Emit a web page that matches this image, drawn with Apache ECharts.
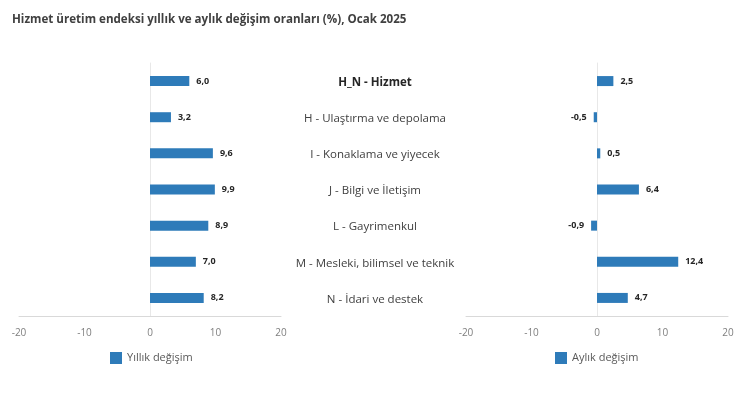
<!DOCTYPE html>
<html><head><meta charset="utf-8">
<script src="https://cdn.jsdelivr.net/npm/echarts@6/dist/echarts.min.js"></script>
<style>html,body{margin:0;padding:0;background:#fff}#c{width:750px;height:394px}</style>
</head><body><div id="c"></div>
<script>
const categories = ["H_N - Hizmet","H - Ulaştırma ve depolama","I - Konaklama ve yiyecek","J - Bilgi ve İletişim","L - Gayrimenkul","M - Mesleki, bilimsel ve teknik","N - İdari ve destek"];
const yillik = [6.0, 3.2, 9.6, 9.9, 8.9, 7.0, 8.2];
const aylik = [2.5, -0.5, 0.5, 6.4, -0.9, 12.4, 4.7];
const xTicks = [-20, -10, 0, 10, 20];

const FONT = "'Open Sans', sans-serif";
const BAR = '#2E7BB9';
function items(arr){ return arr.map(v => ({value: v, label: {position: v < 0 ? 'left' : 'right'}})); }
const labelCfg = {show: true, fontFamily: FONT, fontSize: 9, fontWeight: 'bold', color: '#262626', distance: 7,
  formatter: p => p.value.toFixed(1).replace('.', ',')};
function xAx(gi){ return {type:'value', gridIndex: gi, min: xTicks[0], max: xTicks[xTicks.length-1], interval: 10,
  axisLine:{show:true, lineStyle:{color:'#d9d9d9'}}, axisTick:{show:false}, splitLine:{show:false},
  axisLabel:{color:'#7f7f7f', fontFamily: FONT, fontSize: 10, margin: 12}}; }
const chart = echarts.init(document.getElementById('c'));
chart.setOption({
  animation: false,
  title: {text: 'Hizmet üretim endeksi yıllık ve aylık değişim oranları (%), Ocak 2025', left: 7, top: 9,
    textStyle: {fontFamily: FONT, fontSize: 11.6, fontWeight: 'bold', color: '#404040'}},
  grid: [
    {left: 19, width: 262, top: 63, height: 253},
    {left: 466, width: 262, top: 63, height: 253}
  ],
  xAxis: [xAx(0), xAx(1)],
  yAxis: [
    {type:'category', gridIndex:0, data: categories, inverse: true, axisLine:{show:true, onZero:true, lineStyle:{color:'#e8e8e8'}}, axisTick:{show:false}, axisLabel:{show:false}},
    {type:'category', gridIndex:0, data: categories, inverse: true, position:'right', axisLine:{show:false, onZero:false}, axisTick:{show:false},
      axisLabel:{show:true, margin: 94, align:'center', fontFamily: FONT, fontSize: 11.5, color:'#404040', padding:[3,0,0,0],
        formatter: (v, i) => i === 0 ? '{b|' + v + '}' : v, rich:{b:{fontWeight:'bold', fontFamily: FONT, fontSize: 11.5, color:'#262626'}}}},
    {type:'category', gridIndex:1, data: categories, inverse: true, axisLine:{show:true, onZero:true, lineStyle:{color:'#e8e8e8'}}, axisTick:{show:false}, axisLabel:{show:false}}
  ],
  legend: [
    {data:['Yıllık değişim'], left: 105, top: 347, itemWidth: 12, itemHeight: 12, itemGap: 5, icon:'rect', textStyle:{fontFamily: FONT, fontSize: 11, color:'#595959'}},
    {data:['Aylık değişim'], left: 550, top: 347, itemWidth: 12, itemHeight: 12, icon:'rect', textStyle:{fontFamily: FONT, fontSize: 11, color:'#595959'}}
  ],
  series: [
    {name:'Yıllık değişim', type:'bar', xAxisIndex:0, yAxisIndex:0, data: items(yillik), barWidth: 10, itemStyle:{color: BAR}, label: labelCfg},
    {name:'Aylık değişim', type:'bar', xAxisIndex:1, yAxisIndex:2, data: items(aylik), barWidth: 10, itemStyle:{color: BAR}, label: labelCfg}
  ]
});
</script></body></html>
